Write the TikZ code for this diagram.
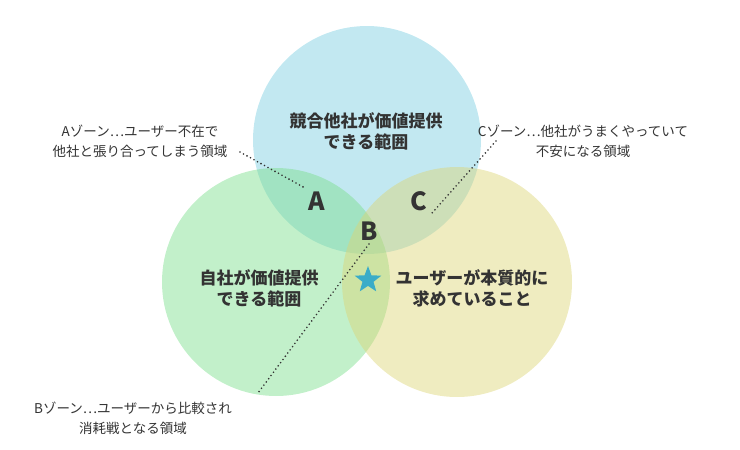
\documentclass[tikz,border=0pt]{standalone}
\usepackage{fontspec}
\setmainfont{Noto Sans CJK JP}
\usetikzlibrary{shapes.geometric}
\definecolor{bluezone}{RGB}{120,205,225}
\definecolor{greenzone}{RGB}{120,222,138}
\definecolor{yellowzone}{RGB}{220,212,115}
\definecolor{textgray}{RGB}{51,51,51}
\definecolor{starblue}{RGB}{58,172,200}

\begin{document}
\begin{tikzpicture}[x=1pt,y=-1pt,
                    semithick]
  \tikzstyle{zone}=[fill opacity=0.45,draw=none]
  \tikzstyle{title}=[text=textgray,font=\bfseries\fontsize{17}{21}\selectfont,align=center]
  \tikzstyle{letter}=[text=textgray,font=\bfseries\fontsize{25}{25}\selectfont]
  \tikzstyle{note}=[text=textgray,font=\fontsize{13.5}{20}\selectfont,align=center]
  \tikzstyle{pointer}=[dash pattern=on 0pt off 4pt,line width=1.8pt,line cap=round,draw=textgray]

  \useasboundingbox (0,0) rectangle (740,450);

  \fill[zone,bluezone]   (367,140) circle (114);
  \fill[zone,greenzone]  (276,282) circle (114);
  \fill[zone,yellowzone] (457,282) circle (115);

  \node[title] (rivals) at (366,131) {競合他社が価値提供\\できる範囲};
  \node[title] (self)   at (259,288) {自社が価値提供\\できる範囲};
  \node[title] (needs)  at (472,288) {ユーザーが本質的に\\求めていること};

  \node[letter] (A) at (317,201) {A};
  \node[letter] (B) at (369,231) {B};
  \node[letter] (C) at (419,201) {C};
  \node[star,star points=5,star point ratio=2.4,fill=starblue,minimum size=28pt,inner sep=0pt] (goal) at (368,280) {};

  \node[note] (noteA) at (140,141) {Aゾーン…ユーザー不在で\\他社と張り合ってしまう領域};
  \node[note] (noteC) at (583,141) {Cゾーン…他社がうまくやっていて\\不安になる領域};
  \node[note] (noteB) at (133,418) {Bゾーン…ユーザーから比較され\\消耗戦となる領域};

  \coordinate (tipA) at (240,152);
  \coordinate (tipC) at (496,141);
  \coordinate (tipB) at (258,393);
  \draw[pointer] (tipA) -- (A.north west);
  \draw[pointer] (tipC) -- (C.south east);
  \draw[pointer] (B.south) -- (tipB);
\end{tikzpicture}
\end{document}
